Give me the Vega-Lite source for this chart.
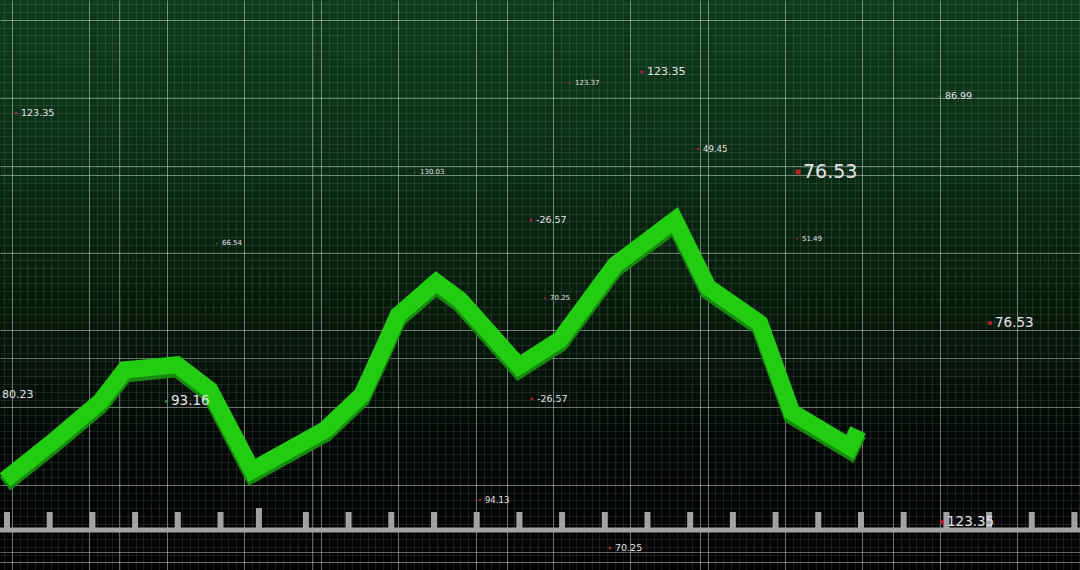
{
  "$schema": "https://vega.github.io/schema/vega-lite/v6.json",
  "width": 1080,
  "height": 570,
  "autosize": {"type": "none"},
  "padding": 0,
  "background": "#020302",
  "config": {
    "view": {
      "stroke": null,
      "fill": {
        "gradient": "linear", "x1": 0, "y1": 0, "x2": 0, "y2": 1,
        "stops": [
          {"offset": 0, "color": "#0d3b1b"},
          {"offset": 0.2, "color": "#0b3318"},
          {"offset": 0.4, "color": "#082411"},
          {"offset": 0.58, "color": "#05170a"},
          {"offset": 0.78, "color": "#020804"},
          {"offset": 1, "color": "#010201"}
        ]
      }
    },
    "axis": {"domain": false, "ticks": false, "labels": false, "minExtent": 0, "maxExtent": 0, "offset": 0}
  },
  "datasets": {
    "series": [
      {"t": -0.05, "v": 15.8}, {"t": 1.12, "v": 22.8}, {"t": 2.18, "v": 29.5},
      {"t": 2.76, "v": 35.1}, {"t": 3.98, "v": 36.0}, {"t": 4.75, "v": 31.6},
      {"t": 5.74, "v": 17.5}, {"t": 7.45, "v": 24.6}, {"t": 8.31, "v": 30.7},
      {"t": 8.74, "v": 37.7}, {"t": 9.16, "v": 44.7}, {"t": 10.05, "v": 50.5},
      {"t": 10.61, "v": 47.4}, {"t": 11.99, "v": 35.8}, {"t": 12.95, "v": 40.4},
      {"t": 14.24, "v": 53.5}, {"t": 15.64, "v": 61.4}, {"t": 16.42, "v": 49.6},
      {"t": 17.63, "v": 43.3}, {"t": 18.38, "v": 27.7}, {"t": 19.74, "v": 21.6},
      {"t": 19.93, "v": 24.6}
    ],
    "labels": [
      {"t": 0.211, "v": 80.18, "label": "123.35", "tier": 3, "dir": "down"},
      {"t": 14.871, "v": 87.37, "label": "123.35", "tier": 4, "dir": "down"},
      {"t": 13.185, "v": 85.44, "label": "123.37", "tier": 1, "dir": "down"},
      {"t": 21.85, "v": 83.16, "label": "86.99", "tier": 3, "dir": "up"},
      {"t": 16.183, "v": 73.86, "label": "49.45", "tier": 2, "dir": "down"},
      {"t": 18.525, "v": 69.82, "label": "76.53", "tier": 6, "dir": "down"},
      {"t": 9.555, "v": 69.82, "label": "130.03", "tier": 1, "dir": "up"},
      {"t": 12.272, "v": 61.4, "label": "-26.57", "tier": 3, "dir": "down"},
      {"t": 4.918, "v": 57.37, "label": "66.54", "tier": 1, "dir": "up"},
      {"t": 18.501, "v": 58.07, "label": "51.49", "tier": 1, "dir": "down"},
      {"t": 12.6, "v": 47.72, "label": "70.25", "tier": 1, "dir": "down"},
      {"t": 23.021, "v": 43.33, "label": "76.53", "tier": 5, "dir": "down"},
      {"t": -0.234, "v": 30.7, "label": "80.23", "tier": 4, "dir": "none"},
      {"t": 3.724, "v": 29.65, "label": "93.16", "tier": 5, "dir": "up"},
      {"t": 12.295, "v": 30.0, "label": "-26.57", "tier": 3, "dir": "down"},
      {"t": 11.077, "v": 12.28, "label": "94.13", "tier": 2, "dir": "down"},
      {"t": 21.897, "v": 8.42, "label": "123.35", "tier": 5, "dir": "down"},
      {"t": 14.122, "v": 3.86, "label": "70.25", "tier": 3, "dir": "down"}
    ],
    "rulerTicks": [
      {"t": 0, "lo": 7.02, "hi": 10.18}, {"t": 1, "lo": 7.02, "hi": 10.18}, {"t": 2, "lo": 7.02, "hi": 10.18},
      {"t": 3, "lo": 7.02, "hi": 10.18}, {"t": 4, "lo": 7.02, "hi": 10.18}, {"t": 5, "lo": 7.02, "hi": 10.18},
      {"t": 5.9, "lo": 7.02, "hi": 10.88}, {"t": 7, "lo": 7.02, "hi": 10.18}, {"t": 8, "lo": 7.02, "hi": 10.18},
      {"t": 9, "lo": 7.02, "hi": 10.18}, {"t": 10, "lo": 7.02, "hi": 10.18}, {"t": 11, "lo": 7.02, "hi": 10.18},
      {"t": 12, "lo": 7.02, "hi": 10.18}, {"t": 13, "lo": 7.02, "hi": 10.18}, {"t": 14, "lo": 7.02, "hi": 10.18},
      {"t": 15, "lo": 7.02, "hi": 10.18}, {"t": 16, "lo": 7.02, "hi": 10.18}, {"t": 17, "lo": 7.02, "hi": 10.18},
      {"t": 18, "lo": 7.02, "hi": 10.18}, {"t": 19, "lo": 7.02, "hi": 10.18}, {"t": 20, "lo": 7.02, "hi": 10.18},
      {"t": 21, "lo": 7.02, "hi": 10.18}, {"t": 22, "lo": 7.02, "hi": 10.18}, {"t": 23, "lo": 7.02, "hi": 10.18},
      {"t": 24, "lo": 7.02, "hi": 10.18}, {"t": 25, "lo": 7.02, "hi": 10.18}
    ],
    "rulerBase": [
      {"t": -0.164, "t2": 25.13, "v": 7.02}
    ]
  },
  "layer": [
    {
      "data": {"values": [{"mx": 0, "my": 0}]},
      "mark": {"type": "point", "opacity": 0},
      "encoding": {
        "x": {
          "field": "mx", "type": "quantitative",
          "scale": {"domain": [-0.1552, 13.8163], "nice": false, "zero": false},
          "axis": {"grid": true, "tickCount": 140, "gridColor": "#cfe3d3", "gridOpacity": 0.11, "title": null}
        },
        "y": {
          "field": "my", "type": "quantitative",
          "scale": {"domain": [-0.258, 7.097], "nice": false, "zero": false, "reverse": true},
          "axis": {"grid": true, "tickCount": 74, "gridColor": "#cfe3d3", "gridOpacity": 0.11, "title": null}
        }
      }
    },
    {
      "encoding": {
        "x": {
          "field": "t", "type": "quantitative",
          "scale": {"domain": [-0.164, 25.13], "nice": false, "zero": false},
          "axis": {
            "grid": true, "title": null, "gridColor": "#dde9df", "gridOpacity": 0.42,
            "values": [0.117, 1.927, 2.623, 3.738, 5.548, 7.143, 7.358, 9.169, 10.979, 11.71, 12.789, 14.6, 16.23, 16.41, 18.22, 20.03, 20.75, 21.841, 23.651]
          }
        },
        "y": {
          "field": "v", "type": "quantitative",
          "scale": {"domain": [0, 100], "nice": false, "zero": false},
          "axis": {
            "grid": true, "title": null, "gridColor": "#dde9df", "gridOpacity": 0.42,
            "values": [96.49, 82.89, 70.88, 69.3, 55.7, 42.11, 37.19, 28.51, 14.91, 3.16, 1.32]
          }
        }
      },
      "layer": [
        {
          "data": {"name": "rulerTicks"},
          "mark": {"type": "rule", "strokeWidth": 6, "color": "#a2a2a2"},
          "encoding": {
            "y": {"field": "lo", "type": "quantitative"},
            "y2": {"field": "hi"}
          }
        },
        {
          "data": {"name": "rulerBase"},
          "mark": {"type": "rule", "strokeWidth": 5, "color": "#a2a2a2"},
          "encoding": {
            "x2": {"field": "t2"}
          }
        },
        {
          "data": {"name": "series"},
          "mark": {"type": "line", "strokeWidth": 17, "color": "#168a0e", "strokeJoin": "miter", "strokeCap": "butt", "xOffset": 0, "yOffset": 4}
        },
        {
          "data": {"name": "series"},
          "mark": {"type": "line", "strokeWidth": 17, "color": "#22cc11", "strokeJoin": "miter", "strokeCap": "butt"}
        },
        {
          "data": {"name": "labels"},
          "transform": [{"filter": "datum.dir != 'none'"}],
          "mark": {"type": "point", "filled": true, "opacity": 0.9},
          "encoding": {
            "color": {"field": "dir", "type": "nominal", "scale": {"domain": ["down", "up"], "range": ["#c8202c", "#3bb33b"]}, "legend": null},
            "shape": {"field": "dir", "type": "nominal", "scale": {"domain": ["down", "up"], "range": ["square", "triangle-up"]}, "legend": null},
            "size": {"field": "tier", "type": "quantitative", "scale": {"domain": [1, 2, 3, 4, 5, 6], "range": [3, 4, 6, 8, 14, 24]}, "legend": null}
          }
        },
        {
          "data": {"name": "labels"},
          "mark": {"type": "text", "align": "left", "baseline": "middle", "dx": 5, "font": "DejaVu Sans", "color": "#e4e4e4"},
          "encoding": {
            "text": {"field": "label", "type": "nominal"},
            "size": {"field": "tier", "type": "quantitative", "scale": {"domain": [1, 2, 3, 4, 5, 6], "range": [7, 8.5, 9.5, 11, 13.5, 19]}, "legend": null}
          }
        }
      ],
      "resolve": {"scale": {"size": "independent"}}
    }
  ],
  "resolve": {"scale": {"x": "independent", "y": "independent"}, "axis": {"x": "independent", "y": "independent"}}
}
